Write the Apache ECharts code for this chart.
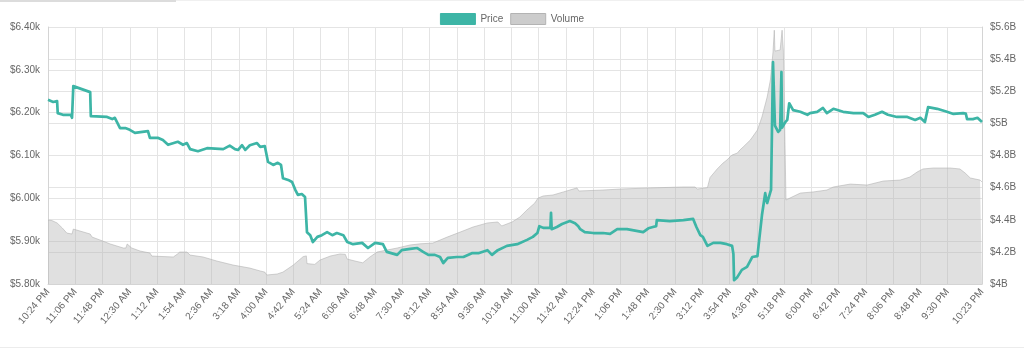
<!DOCTYPE html>
<html>
<head>
<meta charset="utf-8">
<script src="https://cdn.jsdelivr.net/npm/echarts@6/dist/echarts.min.js"></script>
<style>
  html, body { margin: 0; padding: 0; background: #fff; }
  #chart { width: 1024px; height: 350px; }
</style>
</head>
<body>
<div id="chart"></div>
<script>
// 24 hours of one-minute slots, starting 10:24 PM
const START_MINUTE = 22 * 60 + 24;
const SLOT_COUNT = 1440;
const LABEL_STEP = 42;

// Price (thousands of USD), sampled at minute offsets from the start
const priceMinutes = [0, 8, 14, 15, 23, 35, 37, 39, 65, 66, 91, 99, 103, 111, 119, 126, 134, 154, 157, 170,
  177, 185, 200, 208, 214, 219, 231, 245, 270, 280, 288, 293, 299, 304, 311, 322, 327, 334, 337, 339,
  347, 354, 359, 362, 370, 376, 381, 385, 391, 396, 398, 399, 404, 408, 415, 422, 430, 438, 445, 455,
  461, 470, 484, 493, 504, 516, 522, 538, 545, 558, 569, 578, 586, 596, 604, 609, 616, 630, 640, 653,
  663, 677, 684, 693, 707, 723, 738, 747, 754, 757, 763, 774, 775, 776, 784, 792, 804, 812, 817, 820,
  827, 840, 855, 866, 877, 892, 917, 925, 932, 937, 938, 958, 979, 994, 999, 1005, 1009, 1016, 1025, 1036,
  1046, 1054, 1056, 1057, 1062, 1069, 1077, 1085, 1093, 1094, 1100, 1105, 1108, 1113, 1114, 1117, 1120, 1125, 1128, 1130,
  1131, 1136, 1139, 1142, 1148, 1159, 1170, 1174, 1185, 1194, 1200, 1210, 1225, 1241, 1256, 1264, 1274, 1285, 1294, 1308,
  1324, 1336, 1344, 1351, 1354, 1356, 1370, 1385, 1395, 1410, 1414, 1416, 1425, 1432, 1439];
const priceValues = [6.230, 6.225, 6.227, 6.199, 6.195, 6.195, 6.188, 6.262, 6.248, 6.192, 6.190, 6.185, 6.188, 6.164, 6.164, 6.160, 6.153, 6.157, 6.141, 6.141,
  6.136, 6.125, 6.132, 6.125, 6.129, 6.115, 6.110, 6.117, 6.115, 6.123, 6.115, 6.113, 6.124, 6.113, 6.124, 6.129, 6.120, 6.122, 6.122, 6.085,
  6.078, 6.083, 6.078, 6.047, 6.043, 6.038, 6.020, 6.008, 6.010, 6.003, 6.000, 5.921, 5.914, 5.898, 5.910, 5.914, 5.921, 5.914, 5.919, 5.914,
  5.898, 5.893, 5.896, 5.884, 5.896, 5.893, 5.875, 5.868, 5.879, 5.882, 5.884, 5.875, 5.868, 5.868, 5.863, 5.849, 5.861, 5.863, 5.863, 5.872,
  5.872, 5.879, 5.868, 5.879, 5.889, 5.893, 5.903, 5.910, 5.919, 5.935, 5.931, 5.931, 5.966, 5.928, 5.933, 5.940, 5.947, 5.942, 5.935, 5.928,
  5.921, 5.919, 5.919, 5.917, 5.928, 5.928, 5.921, 5.930, 5.933, 5.935, 5.949, 5.947, 5.949, 5.952, 5.933, 5.914, 5.910, 5.889, 5.896, 5.896,
  5.893, 5.889, 5.870, 5.809, 5.816, 5.833, 5.840, 5.863, 5.865, 5.879, 5.961, 6.012, 5.989, 6.015, 6.020, 6.318, 6.170, 6.155, 6.160, 6.295,
  6.165, 6.178, 6.183, 6.222, 6.206, 6.202, 6.195, 6.199, 6.202, 6.211, 6.199, 6.209, 6.202, 6.199, 6.199, 6.190, 6.195, 6.202, 6.195, 6.190,
  6.190, 6.183, 6.188, 6.178, 6.180, 6.213, 6.209, 6.202, 6.197, 6.199, 6.198, 6.185, 6.185, 6.188, 6.178];

// Volume (billions of USD), sampled at minute offsets from the start
const volumeMinutes = [0, 6, 14, 22, 29, 37, 39, 65, 68, 80, 96, 116, 120, 122, 129, 142, 157, 160, 193, 199,
  203, 214, 219, 239, 260, 285, 311, 327, 334, 337, 353, 362, 378, 393, 398, 399, 411, 419, 435, 450,
  458, 461, 476, 485, 496, 507, 522, 538, 558, 573, 593, 615, 635, 655, 677, 693, 699, 715, 727, 738,
  750, 755, 763, 778, 794, 809, 815, 818, 855, 881, 928, 979, 997, 1000, 1016, 1020, 1031, 1040, 1046, 1054,
  1062, 1066, 1071, 1082, 1093, 1100, 1108, 1113, 1116, 1117, 1119, 1120, 1128, 1131, 1133, 1136, 1137, 1143, 1159, 1179,
  1200, 1210, 1236, 1262, 1287, 1313, 1328, 1339, 1348, 1364, 1390, 1405, 1413, 1421, 1436, 1439];
const volumeValues = [4.398, 4.395, 4.380, 4.349, 4.317, 4.311, 4.342, 4.311, 4.292, 4.274, 4.249, 4.224, 4.224, 4.249, 4.224, 4.205, 4.193, 4.174, 4.168, 4.185,
  4.199, 4.199, 4.180, 4.168, 4.143, 4.118, 4.099, 4.081, 4.074, 4.056, 4.062, 4.074, 4.118, 4.170, 4.175, 4.127, 4.122, 4.149, 4.174, 4.187,
  4.185, 4.155, 4.140, 4.132, 4.168, 4.199, 4.211, 4.224, 4.243, 4.250, 4.255, 4.292, 4.323, 4.355, 4.380, 4.386, 4.361, 4.386, 4.417, 4.461,
  4.504, 4.535, 4.548, 4.554, 4.573, 4.591, 4.598, 4.579, 4.585, 4.591, 4.598, 4.604, 4.604, 4.591, 4.600, 4.663, 4.716, 4.753, 4.772, 4.803,
  4.815, 4.834, 4.853, 4.896, 4.959, 5.040, 5.164, 5.270, 5.400, 5.444, 5.580, 5.450, 5.457, 5.580, 5.450, 5.450, 4.523, 4.535, 4.566, 4.573,
  4.585, 4.604, 4.622, 4.616, 4.641, 4.647, 4.666, 4.697, 4.716, 4.722, 4.722, 4.716, 4.691, 4.660, 4.647, 4.635];

const PRICE_COLOR = '#3db5a6';
const VOLUME_FILL = 'rgba(180,180,180,0.6)';
const TEXT_COLOR = '#666';
const FONT = '"Liberation Sans", Arial, Helvetica, sans-serif';

function clockLabel(offset) {
  const t = (START_MINUTE + offset) % 1440;
  const h24 = Math.floor(t / 60);
  const mm = String(t % 60).padStart(2, '0');
  const h12 = h24 % 12 === 0 ? 12 : h24 % 12;
  return h12 + ':' + mm + ' ' + (h24 < 12 ? 'AM' : 'PM');
}
const timeSlots = Array.from({ length: SLOT_COUNT }, (_, i) => clockLabel(i));
const LAST = SLOT_COUNT - 1;
const showTick = (idx) => idx === LAST || (idx % LABEL_STEP === 0 && LAST - idx >= LABEL_STEP);

const zip = (xs, ys) => xs.map((x, i) => [x, ys[i]]);

const chart = echarts.init(document.getElementById('chart'), null, { renderer: 'canvas' });
chart.setOption({
  animation: false,
  backgroundColor: '#fff',
  textStyle: { fontFamily: FONT },
  legend: {
    top: 8,
    left: 'center',
    itemWidth: 35,
    itemHeight: 11,
    itemGap: 7,
    textStyle: { color: TEXT_COLOR, fontSize: 10, fontFamily: FONT },
    data: [
      { name: 'Price', icon: 'rect', itemStyle: { color: PRICE_COLOR, borderColor: PRICE_COLOR, borderWidth: 1 } },
      { name: 'Volume', icon: 'rect', itemStyle: { color: '#cccccc', borderColor: '#b3b3b3', borderWidth: 1 } }
    ]
  },
  grid: { left: 48, right: 42, top: 27, bottom: 66, containLabel: false },
  xAxis: {
    type: 'category',
    data: timeSlots,
    boundaryGap: false,
    axisLine: { show: true, lineStyle: { color: '#d4d4d4' } },
    axisTick: { show: false },
    axisLabel: {
      interval: (idx) => showTick(idx),
      rotate: 50,
      color: TEXT_COLOR,
      fontSize: 10,
      fontFamily: FONT,
      margin: 6
    },
    splitLine: { show: true, interval: (idx) => showTick(idx), lineStyle: { color: '#e4e4e4', width: 1 } }
  },
  yAxis: [
    {
      type: 'value',
      position: 'left',
      min: 5.8,
      max: 6.4,
      interval: 0.1,
      axisLine: { show: true, lineStyle: { color: '#d4d4d4' } },
      axisTick: { show: false },
      axisLabel: { color: TEXT_COLOR, fontSize: 10, fontFamily: FONT, margin: 8, formatter: (v) => '$' + v.toFixed(2) + 'k' },
      splitLine: { show: true, lineStyle: { color: '#e4e4e4', width: 1 } }
    },
    {
      type: 'value',
      position: 'right',
      min: 4,
      max: 5.6,
      interval: 0.2,
      axisLine: { show: true, lineStyle: { color: '#d4d4d4' } },
      axisTick: { show: false },
      axisLabel: { color: TEXT_COLOR, fontSize: 10, fontFamily: FONT, margin: 8, formatter: (v) => '$' + (+v.toFixed(1)) + 'B' },
      splitLine: { show: true, lineStyle: { color: '#e4e4e4', width: 1 } }
    }
  ],
  series: [
    {
      name: 'Volume',
      type: 'line',
      yAxisIndex: 1,
      data: zip(volumeMinutes, volumeValues),
      showSymbol: false,
      z: 1,
      lineStyle: { width: 1, color: 'rgba(175,175,175,0.55)' },
      itemStyle: { color: '#cccccc' },
      areaStyle: { color: VOLUME_FILL, origin: 'start' }
    },
    {
      name: 'Price',
      type: 'line',
      yAxisIndex: 0,
      data: zip(priceMinutes, priceValues),
      showSymbol: false,
      z: 3,
      lineStyle: { width: 2.7, color: PRICE_COLOR, join: 'round' },
      itemStyle: { color: PRICE_COLOR }
    }
  ],
  graphic: [
    { type: 'rect', left: 0, top: 0, shape: { width: 176, height: 2 }, style: { fill: '#dcdcdc' }, silent: true },
    { type: 'rect', left: 176, top: 0, shape: { width: 848, height: 1 }, style: { fill: '#f0f0f0' }, silent: true },
    { type: 'rect', left: 0, top: 347, shape: { width: 1024, height: 1 }, style: { fill: '#ececec' }, silent: true }
  ]
});
</script>
</body>
</html>
